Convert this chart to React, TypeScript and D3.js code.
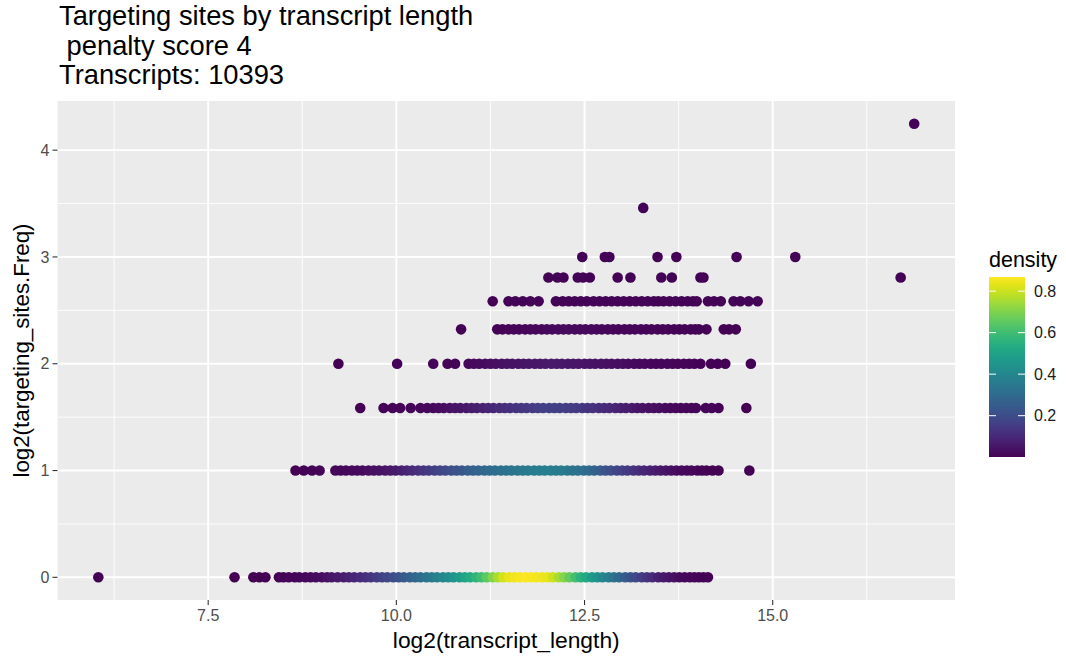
import React, { useEffect, useRef } from "react"
import * as d3 from "d3"

const titleLines = ["Targeting sites by transcript length", " penalty score 4", "Transcripts: 10393"]
const xTitle = "log2(transcript_length)"
const yTitle = "log2(targeting_sites.Freq)"
const legendTitle = "density"

const xTicks = [7.5, 10, 12.5, 15]
const xMinorTicks = [6.25, 8.75, 11.25, 13.75, 16.25]
const yTicks = [0, 1, 2, 3, 4]
const yMinorTicks = [0.5, 1.5, 2.5, 3.5]
const legendTicks = [0.2, 0.4, 0.6, 0.8]

// targeting sites per transcript, one row of points each (y = log2 of it)
const siteCounts = [1, 2, 3, 4, 5, 6, 7, 8, 11, 19]

// log2(transcript_length) of the points in each row
const sites1 = [6.04, 7.85, 8.10, 8.18, 8.26,
  8.44, 8.5, 8.57, 8.65, 8.71, 8.79, 8.86, 8.93, 9.01, 9.08, 9.14, 9.22, 9.3, 9.37, 9.44, 9.52, 9.59, 9.66, 9.74,
  9.81, 9.88, 9.96, 10.03, 10.1, 10.18, 10.25, 10.32, 10.4, 10.47, 10.54, 10.62, 10.69, 10.76, 10.84, 10.91, 10.98,
  11.06, 11.13, 11.2, 11.28, 11.35, 11.42, 11.5, 11.57, 11.64, 11.72, 11.79, 11.86, 11.94, 12.01, 12.08, 12.16,
  12.23, 12.3, 12.38, 12.45, 12.52, 12.6, 12.67, 12.74, 12.82, 12.89, 12.96, 13.04, 13.11, 13.18, 13.26, 13.33,
  13.4, 13.48, 13.55, 13.62, 13.69, 13.76, 13.83, 13.9, 13.96, 14.02, 14.08, 14.14]
const sites2 = [8.66, 8.77, 8.88, 8.98,
  9.19, 9.26, 9.33, 9.41, 9.48, 9.55, 9.63, 9.7, 9.77, 9.85, 9.92, 9.99, 10.07, 10.14, 10.21, 10.29, 10.36, 10.43,
  10.51, 10.58, 10.65, 10.73, 10.8, 10.87, 10.95, 11.02, 11.09, 11.17, 11.24, 11.31, 11.39, 11.46, 11.53, 11.61,
  11.68, 11.75, 11.83, 11.9, 11.97, 12.05, 12.12, 12.19, 12.27, 12.34, 12.41, 12.49, 12.56, 12.63, 12.71, 12.78,
  12.85, 12.93, 13.0, 13.07, 13.15, 13.22, 13.29, 13.37, 13.44, 13.51, 13.58, 13.65, 13.72, 13.79, 13.86, 13.92,
  14.0, 14.06, 14.12, 14.2, 14.28, 14.69]
const sites3 = [9.52, 9.83, 9.95, 10.05, 10.19, 10.32, 10.41,
  10.49, 10.56, 10.63, 10.71, 10.78, 10.85, 10.93, 11.0, 11.07, 11.15, 11.22, 11.29, 11.37, 11.44, 11.51, 11.59,
  11.66, 11.73, 11.81, 11.88, 11.95, 12.03, 12.1, 12.17, 12.25, 12.32, 12.39, 12.47, 12.54, 12.61, 12.69, 12.76,
  12.83, 12.91, 12.98, 13.05, 13.13, 13.2, 13.27, 13.35, 13.42, 13.49, 13.57, 13.64, 13.71, 13.78, 13.85, 13.92,
  13.98, 14.11, 14.19, 14.28, 14.65]
const sites4 = [9.23, 10.01, 10.49, 10.68, 10.78,
  10.96, 11.03, 11.1, 11.18, 11.25, 11.32, 11.4, 11.47, 11.54, 11.62, 11.69, 11.76, 11.84, 11.91, 11.98, 12.06,
  12.13, 12.2, 12.28, 12.35, 12.42, 12.5, 12.57, 12.64, 12.72, 12.79, 12.86, 12.94, 13.01, 13.08, 13.16, 13.23,
  13.3, 13.38, 13.45, 13.52, 13.6, 13.67, 13.74, 13.82, 13.89, 13.96, 14.04, 14.18, 14.27, 14.37, 14.71]
const sites5 = [10.86,
  11.34, 11.41, 11.49, 11.56, 11.63, 11.71, 11.78, 11.85, 11.93, 12.0, 12.07, 12.15, 12.22, 12.29, 12.37, 12.44,
  12.51, 12.59, 12.66, 12.73, 12.81, 12.88, 12.95, 13.03, 13.1, 13.17, 13.25, 13.32, 13.39, 13.47, 13.54, 13.61,
  13.69, 13.76, 13.83, 13.91, 13.97, 14.02, 14.12, 14.35, 14.42, 14.51]
const sites6 = [11.28, 11.49, 11.58, 11.68, 11.78, 11.89, 12.12,
  12.21, 12.29, 12.37, 12.45, 12.53, 12.62, 12.7, 12.78, 12.86, 12.94, 13.02, 13.1, 13.18, 13.26, 13.34, 13.42,
  13.48, 13.55, 13.63, 13.71, 13.79, 13.87, 13.94, 13.99, 14.14, 14.22, 14.31, 14.48, 14.57, 14.68, 14.8]
const sites7 = [12.02, 12.14, 12.22, 12.41, 12.48, 12.57, 12.94, 13.11, 13.52, 13.66, 14.04, 14.08, 16.7]
const sites8 = [12.47, 12.77, 12.83, 13.47, 13.72, 14.52, 15.3]
const sites11 = [13.28]
const sites19 = [16.88]
const rowPoints = [sites1, sites2, sites3, sites4, sites5, sites6, sites7, sites8, sites11, sites19]

// density read along each row, [log2 length, density]
const density1 = [[8.4, 0], [9.0, 0.03], [9.5, 0.1], [10.0, 0.21], [10.4, 0.33], [10.8, 0.46], [11.1, 0.58],
  [11.3, 0.72], [11.45, 0.83], [11.7, 0.868], [12.02, 0.84], [12.2, 0.73], [12.42, 0.58], [12.65, 0.45],
  [12.95, 0.3], [13.2, 0.18], [13.5, 0.07], [13.8, 0.02], [14.2, 0]]
const density2 = [[8.6, 0], [9.5, 0.02], [10.0, 0.06], [10.6, 0.18], [11.1, 0.28], [11.5, 0.33], [11.9, 0.37],
  [12.2, 0.36], [12.55, 0.3], [12.9, 0.19], [13.3, 0.09], [13.7, 0.03], [14.1, 0.005], [14.7, 0]]
const density3 = [[9.5, 0], [10.5, 0.02], [11.0, 0.06], [11.5, 0.12], [12.0, 0.17], [12.4, 0.15], [12.8, 0.1],
  [13.2, 0.05], [13.6, 0.02], [14.7, 0]]
const density4 = [[9.2, 0], [10.8, 0.01], [11.5, 0.04], [12.1, 0.06], [12.7, 0.04], [13.4, 0.015], [14.7, 0]]
const density5 = [[10.8, 0], [11.8, 0.015], [12.3, 0.025], [12.9, 0.015], [14.5, 0]]
const densityLow = [[11, 0.005], [17, 0.005]]
const rowDensity = [density1, density2, density3, density4, density5, densityLow, densityLow, densityLow, densityLow, densityLow]

const densityRange = [0.001, 0.868]

const font = "'Liberation Sans', Arial, Helvetica, sans-serif"

export default function App() {
  const ref = useRef<SVGSVGElement>(null)

  useEffect(() => {
    const svg = d3.select(ref.current)
    svg.selectAll("*").remove()

    const panel = { left: 57.5, right: 955, top: 101, bottom: 600 }

    const allX = rowPoints.flat()
    const [xMin, xMax] = d3.extent(allX) as [number, number]
    const xPad = (xMax - xMin) * 0.05
    const x = d3.scaleLinear().domain([xMin - xPad, xMax + xPad]).range([panel.left, panel.right])

    const allY = siteCounts.map(d => Math.log2(d))
    const [yMin, yMax] = d3.extent(allY) as [number, number]
    const yPad = (yMax - yMin) * 0.05
    const y = d3.scaleLinear().domain([yMin - yPad, yMax + yPad]).range([panel.bottom, panel.top])

    const color = d3.scaleSequential(d3.interpolateViridis).domain(densityRange)

    // panel
    svg.append("rect")
      .attr("x", panel.left).attr("y", panel.top)
      .attr("width", panel.right - panel.left).attr("height", panel.bottom - panel.top)
      .attr("fill", "#EBEBEB")

    const grid = svg.append("g")
    grid.selectAll(".xminor").data(xMinorTicks).enter().append("line")
      .attr("x1", d => x(d)).attr("x2", d => x(d))
      .attr("y1", panel.top).attr("y2", panel.bottom)
      .attr("stroke", "#fff").attr("stroke-width", 0.9)
    grid.selectAll(".yminor").data(yMinorTicks).enter().append("line")
      .attr("y1", d => y(d)).attr("y2", d => y(d))
      .attr("x1", panel.left).attr("x2", panel.right)
      .attr("stroke", "#fff").attr("stroke-width", 0.9)
    grid.selectAll(".xmajor").data(xTicks).enter().append("line")
      .attr("x1", d => x(d)).attr("x2", d => x(d))
      .attr("y1", panel.top).attr("y2", panel.bottom)
      .attr("stroke", "#fff").attr("stroke-width", 1.9)
    grid.selectAll(".ymajor").data(yTicks).enter().append("line")
      .attr("y1", d => y(d)).attr("y2", d => y(d))
      .attr("x1", panel.left).attr("x2", panel.right)
      .attr("stroke", "#fff").attr("stroke-width", 1.9)

    // points
    const pts = svg.append("g")
    rowPoints.forEach((row, i) => {
      const stops = rowDensity[i]
      const dens = d3.scaleLinear()
        .domain(stops.map(s => s[0]))
        .range(stops.map(s => s[1]))
        .clamp(true)
      const yv = Math.log2(siteCounts[i])
      pts.selectAll(".r" + i).data(row).enter().append("circle")
        .attr("cx", d => x(d))
        .attr("cy", y(yv))
        .attr("r", 5.3)
        .attr("fill", d => color(Math.max(densityRange[0], dens(d))))
    })

    // axes
    const xAxis = svg.append("g")
    xAxis.selectAll("line").data(xTicks).enter().append("line")
      .attr("x1", d => x(d)).attr("x2", d => x(d))
      .attr("y1", panel.bottom).attr("y2", panel.bottom + 5)
      .attr("stroke", "#333").attr("stroke-width", 1.1)
    xAxis.selectAll("text").data(xTicks).enter().append("text")
      .attr("x", d => x(d)).attr("y", panel.bottom + 21)
      .attr("text-anchor", "middle")
      .style("font-family", font).style("font-size", "16px").attr("fill", "#4D4D4D")
      .text(d => d3.format(".1f")(d))

    const yAxis = svg.append("g")
    yAxis.selectAll("line").data(yTicks).enter().append("line")
      .attr("y1", d => y(d)).attr("y2", d => y(d))
      .attr("x1", panel.left - 5).attr("x2", panel.left)
      .attr("stroke", "#333").attr("stroke-width", 1.1)
    yAxis.selectAll("text").data(yTicks).enter().append("text")
      .attr("x", panel.left - 8).attr("y", d => y(d)).attr("dy", "0.36em")
      .attr("text-anchor", "end")
      .style("font-family", font).style("font-size", "16px").attr("fill", "#4D4D4D")
      .text(d => String(d))

    svg.append("text")
      .attr("x", (panel.left + panel.right) / 2).attr("y", 648)
      .attr("text-anchor", "middle")
      .style("font-family", font).style("font-size", "22.8px").attr("fill", "#000")
      .text(xTitle)

    svg.append("text")
      .attr("transform", `translate(29,${(panel.top + panel.bottom) / 2}) rotate(-90)`)
      .attr("text-anchor", "middle")
      .style("font-family", font).style("font-size", "22.3px").attr("fill", "#000")
      .text(yTitle)

    // title
    svg.append("g").selectAll("text").data(titleLines).enter().append("text")
      .attr("x", 59).attr("y", (d, i) => 25 + i * 29.5)
      .style("font-family", font).style("font-size", "27.3px").style("white-space", "pre")
      .attr("fill", "#000")
      .text(d => d)

    // legend
    const bar = { left: 989, right: 1025, top: 277, bottom: 457 }
    const ly = d3.scaleLinear().domain(densityRange).range([bar.bottom, bar.top])
    const grad = svg.append("defs").append("linearGradient")
      .attr("id", "densgrad").attr("x1", 0).attr("x2", 0).attr("y1", 1).attr("y2", 0)
    d3.range(0, 1.0001, 0.05).forEach(t => {
      grad.append("stop").attr("offset", t)
        .attr("stop-color", color(densityRange[0] + t * (densityRange[1] - densityRange[0])))
    })
    svg.append("text")
      .attr("x", bar.left).attr("y", 267)
      .style("font-family", font).style("font-size", "21.5px").attr("fill", "#000")
      .text(legendTitle)
    svg.append("rect")
      .attr("x", bar.left).attr("y", bar.top)
      .attr("width", bar.right - bar.left).attr("height", bar.bottom - bar.top)
      .attr("fill", "url(#densgrad)")
    const lt = svg.append("g")
    lt.selectAll(".tl").data(legendTicks).enter().append("line")
      .attr("x1", bar.left).attr("x2", bar.left + 7)
      .attr("y1", d => ly(d)).attr("y2", d => ly(d))
      .attr("stroke", "#fff").attr("stroke-width", 1)
    lt.selectAll(".tr").data(legendTicks).enter().append("line")
      .attr("x1", bar.right - 7).attr("x2", bar.right)
      .attr("y1", d => ly(d)).attr("y2", d => ly(d))
      .attr("stroke", "#fff").attr("stroke-width", 1)
    lt.selectAll("text").data(legendTicks).enter().append("text")
      .attr("x", bar.right + 9).attr("y", d => ly(d)).attr("dy", "0.36em")
      .style("font-family", font).style("font-size", "16px").attr("fill", "#1A1A1A")
      .text(d => d3.format(".1f")(d))
  }, [])

  return (
    <svg ref={ref} width={1066} height={657}
      style={{ position: "absolute", left: 0, top: 0, background: "#fff" }} />
  )
}
